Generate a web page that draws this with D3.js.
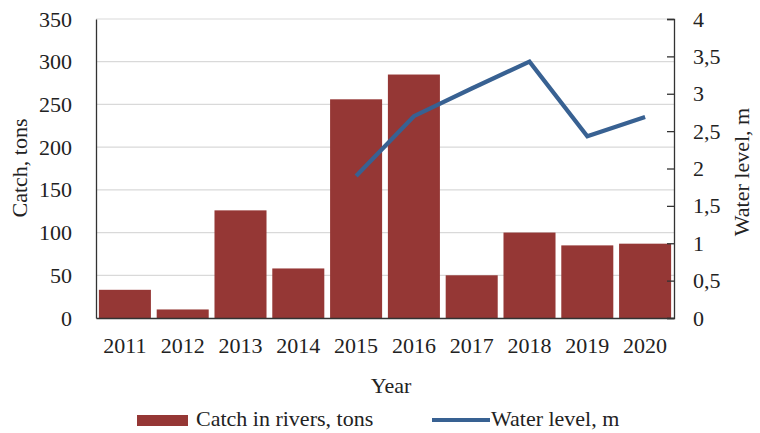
<!DOCTYPE html>
<html>
<head>
<meta charset="utf-8">
<script src="https://cdn.jsdelivr.net/npm/d3@7"></script>
<style>
  html, body { margin: 0; padding: 0; background: #fff; }
  svg { display: block; font-family: "Liberation Serif", "Times New Roman", serif; }
</style>
</head>
<body>
<svg id="chart" width="760" height="433"></svg>
<script>
// Yearly figures
const years = ["2011", "2012", "2013", "2014", "2015", "2016", "2017", "2018", "2019", "2020"];
const catchTons = [33, 10, 126, 58, 256, 285, 50, 100, 85, 87];
const waterLevel = [null, null, null, null, 1.9, 2.7, 3.07, 3.43, 2.43, 2.69];

const catchTicks = [0, 50, 100, 150, 200, 250, 300, 350];
const levelTicks = [0, 0.5, 1, 1.5, 2, 2.5, 3, 3.5, 4];

const W = 760, H = 433;
const m = { left: 96, right: 674, top: 19, bottom: 318 };
const FS = 22;

const svg = d3.select("#chart");
svg.append("rect").attr("width", W).attr("height", H).attr("fill", "#fff");

const x = d3.scaleBand().domain(years).range([m.left, m.right])
  .paddingInner(0.1).paddingOuter(0.05);
const yL = d3.scaleLinear().domain([0, 350]).range([m.bottom, m.top]);
const yR = d3.scaleLinear().domain([0, 4]).range([m.bottom, m.top]);

const fmtComma = d => String(d).replace(".", ",");

// horizontal gridlines
svg.append("g").selectAll("line").data(catchTicks.filter(d => d > 0)).join("line")
  .attr("x1", m.left).attr("x2", m.right)
  .attr("y1", d => yL(d)).attr("y2", d => yL(d))
  .attr("stroke", "#d9d9d9").attr("stroke-width", 1.2);

// bars
svg.append("g").selectAll("rect").data(years).join("rect")
  .attr("x", d => x(d))
  .attr("width", x.bandwidth())
  .attr("y", (d, i) => yL(catchTons[i]))
  .attr("height", (d, i) => yL(0) - yL(catchTons[i]))
  .attr("fill", "#953735");

// water level line
const pts = years.map((d, i) => ({ year: d, v: waterLevel[i] }));
const line = d3.line()
  .defined(p => p.v != null)
  .x(p => x(p.year) + x.bandwidth() / 2)
  .y(p => yR(p.v));
svg.append("path").datum(pts)
  .attr("d", line)
  .attr("fill", "none")
  .attr("stroke", "#386192")
  .attr("stroke-width", 4.2)
  .attr("stroke-linejoin", "miter");

// left axis
const axL = svg.append("g").attr("transform", `translate(${m.left},0)`)
  .call(d3.axisLeft(yL).tickValues(catchTicks).tickSize(0).tickPadding(24));
axL.select(".domain").attr("stroke", "#333").attr("stroke-width", 1.3);
axL.selectAll("text").attr("font-size", FS).attr("fill", "#222")
  .attr("font-family", "Liberation Serif");

// right axis, ticks pointing inward
const axR = svg.append("g").attr("transform", `translate(${m.right},0)`)
  .call(d3.axisRight(yR).tickValues(levelTicks).tickFormat(fmtComma)
    .tickSizeInner(-7).tickSizeOuter(-7).tickPadding(19));
axR.select(".domain").attr("stroke", "#333").attr("stroke-width", 1.3);
axR.selectAll(".tick line").attr("stroke", "#333").attr("stroke-width", 1.3);
axR.selectAll("text").attr("font-size", FS).attr("fill", "#222")
  .attr("font-family", "Liberation Serif");

// bottom axis
const axB = svg.append("g").attr("transform", `translate(0,${m.bottom})`)
  .call(d3.axisBottom(x).tickSize(0).tickPadding(19));
axB.select(".domain").attr("stroke", "#333").attr("stroke-width", 1.3);
axB.selectAll("text").attr("font-size", FS).attr("fill", "#222")
  .attr("font-family", "Liberation Serif");

// axis titles
svg.append("text").attr("transform", "translate(27,168) rotate(-90)")
  .attr("text-anchor", "middle").attr("font-size", FS).attr("fill", "#222")
  .text("Catch, tons");
svg.append("text").attr("transform", "translate(749,172) rotate(-90)")
  .attr("text-anchor", "middle").attr("font-size", FS).attr("fill", "#222")
  .text("Water level, m");
svg.append("text").attr("x", 391).attr("y", 393)
  .attr("text-anchor", "middle").attr("font-size", FS).attr("fill", "#222")
  .text("Year");

// legend
const lg = svg.append("g");
lg.append("rect").attr("x", 137).attr("y", 415).attr("width", 51).attr("height", 11)
  .attr("fill", "#953735");
lg.append("text").attr("x", 196).attr("y", 426).attr("font-size", FS).attr("fill", "#222")
  .text("Catch in rivers, tons");
lg.append("line").attr("x1", 432).attr("x2", 490).attr("y1", 420).attr("y2", 420)
  .attr("stroke", "#386192").attr("stroke-width", 4.2);
lg.append("text").attr("x", 491).attr("y", 426).attr("font-size", FS).attr("fill", "#222")
  .text("Water level, m");
</script>
</body>
</html>
